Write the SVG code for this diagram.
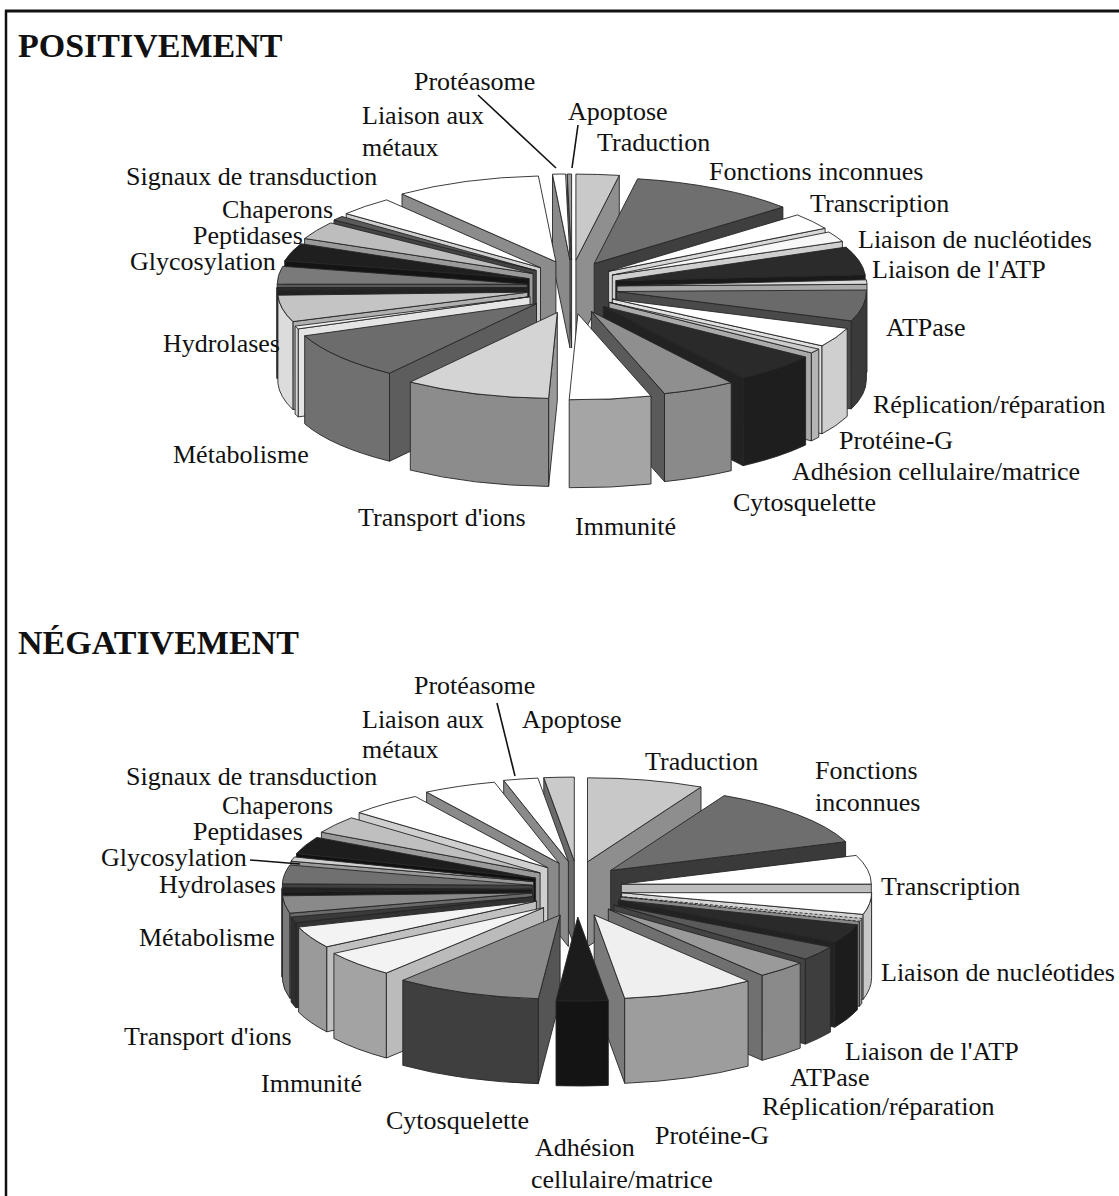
<svg xmlns="http://www.w3.org/2000/svg" width="1119" height="1196" viewBox="0 0 1119 1196">
<style>
.s path{stroke:#262626;stroke-width:0.9;stroke-linejoin:round}
.lbl{font-family:"Liberation Serif","Times New Roman",serif;font-size:26px;fill:#111}
.ttl{font-family:"Liberation Serif","Times New Roman",serif;font-size:34px;font-weight:bold;fill:#111}
.lead{stroke:#111;stroke-width:1.6;fill:none}
</style>
<rect width="1119" height="1196" fill="#fff"/>
<g id="frame" stroke="#111" fill="none">
<line x1="5" y1="11" x2="1119" y2="11" stroke-width="3"/>
<line x1="6" y1="10" x2="6" y2="1196" stroke-width="2.5"/>
</g>
<text class="ttl" x="18" y="57">POSITIVEMENT</text>
<text class="ttl" x="18" y="654">NÉGATIVEMENT</text>

<g id="pie-positivement" class="s">
<g id="p-apoptose"><path d="M571.6,260 L567.2,174 L567.2,262 L571.6,348 Z" fill="#6a6a6a"/><path d="M571.6,260 L567.2,174 A250 86 0 0 1 571.6,174 Z" fill="#9a9a9a"/></g>
<g id="p-proteasome"><path d="M570,260 L552.5,174.2 L552.5,262.2 L570,348 Z" fill="#8a8a8a"/><path d="M570,260 L552.5,174.2 A250 86 0 0 1 565.6,174 Z" fill="#fff"/></g>
<g id="p-traduction"><path d="M575.9,260.1 L619.3,175.4 L619.3,263.4 L575.9,348.1 Z" fill="#8f8f8f"/><path d="M575.9,260.1 L575.9,174.1 A250 86 0 0 1 619.3,175.4 Z" fill="#c9c9c9"/></g>
<g id="p-metaux"><path d="M555.9,261.8 L402,194 L402,282 L555.9,349.8 Z" fill="#8c8c8c"/><path d="M555.9,261.8 L402,194 A250 86 0 0 1 538.4,176 Z" fill="#fff"/></g>
<g id="p-fonctions"><path d="M594.2,263.5 L782.9,207.1 L782.9,295.1 L594.2,351.5 Z" fill="#3f3f3f"/><path d="M594.2,263.5 L637.6,178.8 A250 86 0 0 1 782.9,207.1 Z" fill="#6f6f6f"/></g>
<g id="p-signaux"><path d="M540.5,267.7 L346.2,213.6 L346.2,301.6 L540.5,355.7 Z" fill="#cfcfcf"/><path d="M540.5,267.7 L346.2,213.6 A250 86 0 0 1 386.6,199.9 Z" fill="#fff"/></g>
<g id="p-thin-dark"><path d="M536.3,270.6 L334,220 L334,308 L536.3,358.6 Z" fill="#444"/><path d="M536.3,270.6 L334,220 A250 86 0 0 1 342,216.5 Z" fill="#5a5a5a"/></g>
<g id="p-transcription"><path d="M608.6,271.3 L825.1,228.3 L825.1,316.3 L608.6,359.3 Z" fill="#d8d8d8"/><path d="M608.6,271.3 L797.3,214.9 A250 86 0 0 1 825.1,228.3 Z" fill="#fff"/></g>
<g id="p-chaperons"><path d="M533,273.5 L304.6,238.5 L304.6,326.5 L533,361.5 Z" fill="#9a9a9a"/><path d="M533,273.5 L304.6,238.5 A250 86 0 0 1 330.7,222.9 Z" fill="#bdbdbd"/></g>
<g id="p-nucleotides"><path d="M612.3,275 L842.4,241.4 L842.4,329.4 L612.3,363 Z" fill="#cfcfcf"/><path d="M612.3,275 L828.8,232 A250 86 0 0 1 842.4,241.4 Z" fill="#f7f7f7"/></g>
<g id="p-peptidases"><path d="M529.2,278.7 L284.7,260.8 L284.7,348.8 L529.2,366.7 Z" fill="#141414"/><path d="M529.2,278.7 L284.7,260.8 A250 86 0 0 1 300.8,243.7 Z" fill="#1f1f1f"/></g>
<g id="p-atp"><path d="M615.8,280.7 L865.2,274.7 L865.2,362.7 L615.8,368.7 Z" fill="#1a1a1a"/><path d="M615.8,280.7 L846,247.1 A250 86 0 0 1 865.2,274.7 Z" fill="#2b2b2b"/></g>
<g id="p-glycosylation"><path d="M527.2,284.2 L277.2,284.2 L277.2,372.2 L527.2,372.2 Z" fill="#5a5a5a"/><path d="M527.2,284.2 L277.2,284.2 A250 86 0 0 1 282.7,266.3 Z" fill="#7a7a7a"/></g>
<g id="p-thin-light"><path d="M617,285.8 L867,284.3 L867,372.3 L617,373.8 Z" fill="#a8a8a8"/><path d="M617,285.8 L866.4,279.8 A250 86 0 0 1 867,284.3 Z" fill="#d9d9d9"/></g>
<g id="p-thin-black"><path d="M527,287.5 L277.1,290.5 L277.1,378.5 L527,375.5 Z" fill="#222"/><path d="M277.1,290.5 A250 86 0 0 1 277,287.5 L277,375.5 A250 86 0 0 0 277.1,378.5 Z" fill="#222"/><path d="M527,287.5 L277.1,290.5 A250 86 0 0 1 277,287.5 Z" fill="#2a2a2a"/></g>
<g id="p-atpase"><path d="M616.4,291.5 L851.3,320.9 L851.3,408.9 L616.4,379.5 Z" fill="#4a4a4a"/><path d="M866.4,291.5 A250 86 0 0 1 851.3,320.9 L851.3,408.9 A250 86 0 0 0 866.4,379.5 Z" fill="#3a3a3a"/><path d="M616.4,291.5 L866.4,290 A250 86 0 0 1 851.3,320.9 Z" fill="#6a6a6a"/></g>
<g id="p-hydrolases"><path d="M527.8,292.2 L292.9,321.6 L292.9,409.6 L527.8,380.2 Z" fill="#b0b0b0"/><path d="M292.9,321.6 A250 86 0 0 1 277.9,295.2 L277.9,383.2 A250 86 0 0 0 292.9,409.6 Z" fill="#dcdcdc"/><path d="M527.8,292.2 L292.9,321.6 A250 86 0 0 1 277.9,295.2 Z" fill="#c4c4c4"/></g>
<g id="p-thin-white"><path d="M530,296.7 L298.2,328.9 L298.2,416.9 L530,384.7 Z" fill="#e5e5e5"/><path d="M298.2,328.9 A250 86 0 0 1 295.1,326.1 L295.1,414.1 A250 86 0 0 0 298.2,416.9 Z" fill="#d5d5d5"/><path d="M530,296.7 L298.2,328.9 A250 86 0 0 1 295.1,326.1 Z" fill="#f0f0f0"/></g>
<g id="p-replication"><path d="M612.3,299 L822,345.8 L822,433.8 L612.3,387 Z" fill="#e0e0e0"/><path d="M847.2,328.4 A250 86 0 0 1 822,345.8 L822,433.8 A250 86 0 0 0 847.2,416.4 Z" fill="#cfcfcf"/><path d="M612.3,299 L847.2,328.4 A250 86 0 0 1 822,345.8 Z" fill="#fff"/></g>
<g id="p-proteine-g"><path d="M609.1,302.3 L811.4,352.9 L811.4,440.9 L609.1,390.3 Z" fill="#aaa"/><path d="M818.8,349.1 A250 86 0 0 1 811.4,352.9 L811.4,440.9 A250 86 0 0 0 818.8,437.1 Z" fill="#b5b5b5"/><path d="M609.1,302.3 L818.8,349.1 A250 86 0 0 1 811.4,352.9 Z" fill="#cdcdcd"/></g>
<g id="p-metabolisme"><path d="M536.5,303.6 L389.5,373.2 L389.5,461.2 L536.5,391.6 Z" fill="#5d5d5d"/><path d="M389.5,373.2 A250 86 0 0 1 304.7,335.8 L304.7,423.8 A250 86 0 0 0 389.5,461.2 Z" fill="#707070"/><path d="M536.5,303.6 L389.5,373.2 A250 86 0 0 1 304.7,335.8 Z" fill="#6c6c6c"/></g>
<g id="p-adhesion"><path d="M603.3,306.4 L743.1,377.7 L743.1,465.7 L603.3,394.4 Z" fill="#222"/><path d="M805.6,357 A250 86 0 0 1 743.1,377.7 L743.1,465.7 A250 86 0 0 0 805.6,445 Z" fill="#1e1e1e"/><path d="M603.3,306.4 L805.6,357 A250 86 0 0 1 743.1,377.7 Z" fill="#2a2a2a"/></g>
<g id="p-cytosquelette"><path d="M591.4,311.4 L664.5,393.6 L664.5,481.6 L591.4,399.4 Z" fill="#5a5a5a"/><path d="M731.2,382.7 A250 86 0 0 1 664.5,393.6 L664.5,481.6 A250 86 0 0 0 731.2,470.7 Z" fill="#8a8a8a"/><path d="M591.4,311.4 L731.2,382.7 A250 86 0 0 1 664.5,393.6 Z" fill="#8f8f8f"/></g>
<g id="p-transport"><path d="M557.3,312.5 L548.6,398.4 L548.6,486.4 L557.3,400.5 Z" fill="#999"/><path d="M548.6,398.4 A250 86 0 0 1 410.3,382.1 L410.3,470.1 A250 86 0 0 0 548.6,486.4 Z" fill="#8c8c8c"/><path d="M557.3,312.5 L548.6,398.4 A250 86 0 0 1 410.3,382.1 Z" fill="#d4d4d4"/></g>
<g id="p-immunite"><path d="M651,396 A250 86 0 0 1 569.2,399.7 L569.2,487.7 A250 86 0 0 0 651,484 Z" fill="#a5a5a5"/><path d="M577.9,313.8 L651,396 A250 86 0 0 1 569.2,399.7 Z" fill="#fff"/></g>
</g>

<g id="pie-negativement" class="s">
<g id="n-apoptose"><path d="M574.3,861.1 L543.8,777.7 L543.8,862.7 L574.3,946.1 Z" fill="#6a6a6a"/><path d="M574.3,861.1 L543.8,777.7 A250 84 0 0 1 574.3,777.1 Z" fill="#cacaca"/></g>
<g id="n-proteasome"><path d="M568.4,861.5 L503.7,780.4 L503.7,865.4 L568.4,946.5 Z" fill="#8a8a8a"/><path d="M568.4,861.5 L503.7,780.4 A250 84 0 0 1 537.9,778.1 Z" fill="#fff"/></g>
<g id="n-traduction"><path d="M587.5,861.8 L701,787 L701,872 L587.5,946.8 Z" fill="#8e8e8e"/><path d="M587.5,861.8 L587.5,777.8 A250 84 0 0 1 701,787 Z" fill="#c8c8c8"/></g>
<g id="n-metaux"><path d="M559.1,863.3 L426.6,792.1 L426.6,877.1 L559.1,948.3 Z" fill="#8a8a8a"/><path d="M559.1,863.3 L426.6,792.1 A250 84 0 0 1 494.4,782.2 Z" fill="#fff"/></g>
<g id="n-signaux"><path d="M547.8,867.7 L359.1,812.6 L359.1,897.6 L547.8,952.7 Z" fill="#cfcfcf"/><path d="M547.8,867.7 L359.1,812.6 A250 84 0 0 1 415.3,796.5 Z" fill="#fff"/></g>
<g id="n-fonctions"><path d="M610.7,870.4 L845.6,841.7 L845.6,926.7 L610.7,955.4 Z" fill="#3a3a3a"/><path d="M610.7,870.4 L724.2,795.6 A250 84 0 0 1 845.6,841.7 Z" fill="#6e6e6e"/></g>
<g id="n-chaperons"><path d="M540.1,872.9 L321.4,832.2 L321.4,917.2 L540.1,957.9 Z" fill="#9a9a9a"/><path d="M540.1,872.9 L321.4,832.2 A250 84 0 0 1 351.4,817.8 Z" fill="#bfbfbf"/></g>
<g id="n-peptidases"><path d="M535.6,878.1 L296.5,853.5 L296.5,938.5 L535.6,963.1 Z" fill="#111"/><path d="M535.6,878.1 L296.5,853.5 A250 84 0 0 1 316.9,837.4 Z" fill="#1d1d1d"/></g>
<g id="n-glycosylation"><path d="M533.6,881.5 L291,861.2 L291,946.2 L533.6,966.5 Z" fill="#999"/><path d="M533.6,881.5 L291,861.2 A250 84 0 0 1 294.5,856.9 Z" fill="#cfcfcf"/></g>
<g id="n-transcription"><path d="M621.3,884.1 L871.3,884.1 L871.3,969.1 L621.3,969.1 Z" fill="#bdbdbd"/><path d="M621.3,884.1 L856.2,855.4 A250 84 0 0 1 871.3,884.1 Z" fill="#fff"/></g>
<g id="n-hydrolases"><path d="M532.4,885.3 L282.4,883.8 L282.4,968.8 L532.4,970.3 Z" fill="#404040"/><path d="M532.4,885.3 L282.4,883.8 A250 84 0 0 1 289.8,865 Z" fill="#707070"/></g>
<g id="n-thin-black"><path d="M532,889.2 L282.1,892.1 L282.1,977.1 L532,974.2 Z" fill="#1a1a1a"/><path d="M282.1,892.1 A250 84 0 0 1 282,889.2 L282,974.2 A250 84 0 0 0 282.1,977.1 Z" fill="#1a1a1a"/><path d="M532,889.2 L282.1,892.1 A250 84 0 0 1 282,887.7 Z" fill="#222"/></g>
<g id="n-nucleotides"><path d="M621.6,892.7 L863.1,914.4 L863.1,999.4 L621.6,977.7 Z" fill="#d6d6d6"/><path d="M871.6,892.7 A250 84 0 0 1 863.1,914.4 L863.1,999.4 A250 84 0 0 0 871.6,977.7 Z" fill="#c8c8c8"/><path d="M621.6,892.7 L871.6,892.7 A250 84 0 0 1 863.1,914.4 Z" fill="#fff"/></g>
<g id="n-metabolisme"><path d="M532.4,892.9 L289.8,913.2 L289.8,998.2 L532.4,977.9 Z" fill="#6a6a6a"/><path d="M289.8,913.2 A250 84 0 0 1 282.5,895.8 L282.5,980.8 A250 84 0 0 0 289.8,998.2 Z" fill="#7a7a7a"/><path d="M532.4,892.9 L289.8,913.2 A250 84 0 0 1 282.5,895.8 Z" fill="#8a8a8a"/></g>
<g id="n-thin-dark"><path d="M533.7,896.7 L295.9,922.7 L295.9,1007.7 L533.7,981.7 Z" fill="#333"/><path d="M295.9,922.7 A250 84 0 0 1 291.1,917 L291.1,1002 A250 84 0 0 0 295.9,1007.7 Z" fill="#2e2e2e"/><path d="M533.7,896.7 L295.9,922.7 A250 84 0 0 1 291.1,917 Z" fill="#3a3a3a"/></g>
<g id="n-dotted"><path d="M620.3,896.7 L859.4,921.3 L859.4,1006.3 L620.3,981.7 Z" fill="#888"/><path d="M861.8,918.4 A250 84 0 0 1 859.4,921.3 L859.4,1006.3 A250 84 0 0 0 861.8,1003.4 Z" fill="#999"/><path d="M620.3,896.7 L861.8,918.4 A250 84 0 0 1 859.4,921.3 Z" fill="#bbb" stroke-dasharray="3 2"/></g>
<g id="n-atp"><path d="M618.3,900.2 L834.8,942.2 L834.8,1027.2 L618.3,985.2 Z" fill="#222"/><path d="M857.4,924.8 A250 84 0 0 1 834.8,942.2 L834.8,1027.2 A250 84 0 0 0 857.4,1009.8 Z" fill="#1c1c1c"/><path d="M618.3,900.2 L857.4,924.8 A250 84 0 0 1 834.8,942.2 Z" fill="#2a2a2a"/></g>
<g id="n-transport"><path d="M536.4,901.1 L326.7,946.8 L326.7,1031.8 L536.4,986.1 Z" fill="#c0c0c0"/><path d="M326.7,946.8 A250 84 0 0 1 298.6,927.1 L298.6,1012.1 A250 84 0 0 0 326.7,1031.8 Z" fill="#9a9a9a"/><path d="M536.4,901.1 L326.7,946.8 A250 84 0 0 1 298.6,927.1 Z" fill="#f3f3f3"/></g>
<g id="n-atpase"><path d="M613.9,905.1 L805.4,959.1 L805.4,1044.1 L613.9,990.1 Z" fill="#444"/><path d="M830.4,947.1 A250 84 0 0 1 805.4,959.1 L805.4,1044.1 A250 84 0 0 0 830.4,1032.1 Z" fill="#3e3e3e"/><path d="M613.9,905.1 L830.4,947.1 A250 84 0 0 1 805.4,959.1 Z" fill="#5a5a5a"/></g>
<g id="n-immunite"><path d="M543.6,907.7 L386.3,973 L386.3,1058 L543.6,992.7 Z" fill="#bbb"/><path d="M386.3,973 A250 84 0 0 1 333.9,953.4 L333.9,1038.4 A250 84 0 0 0 386.3,1058 Z" fill="#a3a3a3"/><path d="M543.6,907.7 L386.3,973 A250 84 0 0 1 333.9,953.4 Z" fill="#f3f3f3"/></g>
<g id="n-replication"><path d="M608.3,909.1 L762.2,975.3 L762.2,1060.3 L608.3,994.1 Z" fill="#707070"/><path d="M800.2,963.1 A250 84 0 0 1 762.2,975.3 L762.2,1060.3 A250 84 0 0 0 800.2,1048.1 Z" fill="#8a8a8a"/><path d="M608.3,909.1 L800.2,963.1 A250 84 0 0 1 762.2,975.3 Z" fill="#9a9a9a"/></g>
<g id="n-proteine-g"><path d="M594.2,914.9 L624.7,998.3 L624.7,1083.3 L594.2,999.9 Z" fill="#7a7a7a"/><path d="M748.1,981.1 A250 84 0 0 1 624.7,998.3 L624.7,1083.3 A250 84 0 0 0 748.1,1066.1 Z" fill="#9d9d9d"/><path d="M594.2,914.9 L748.1,981.1 A250 84 0 0 1 624.7,998.3 Z" fill="#efefef"/></g>
<g id="n-cytosquelette"><path d="M560.1,915 L538.3,998.7 L538.3,1083.7 L560.1,1000 Z" fill="#555"/><path d="M538.3,998.7 A250 84 0 0 1 402.8,980.3 L402.8,1065.3 A250 84 0 0 0 538.3,1083.7 Z" fill="#3f3f3f"/><path d="M560.1,915 L538.3,998.7 A250 84 0 0 1 402.8,980.3 Z" fill="#8a8a8a"/></g>
<g id="n-adhesion"><path d="M608.3,1000.4 A250 84 0 0 1 556,1000.7 L556,1085.7 A250 84 0 0 0 608.3,1085.4 Z" fill="#141414"/><path d="M577.8,917 L608.3,1000.4 A250 84 0 0 1 556,1000.7 Z" fill="#1c1c1c"/></g>
</g>

<g id="connectors" class="lead">
<line x1="478" y1="95" x2="556" y2="168"/>
<line x1="578" y1="125" x2="572" y2="168"/>
<line x1="497" y1="703" x2="515" y2="776"/>
<line x1="250" y1="860" x2="300" y2="864"/>
</g>

<g id="labels-positivement" class="lbl">
<text x="414" y="90">Protéasome</text>
<text x="362" y="124">Liaison aux</text>
<text x="362" y="156">métaux</text>
<text x="568" y="120">Apoptose</text>
<text x="597" y="151">Traduction</text>
<text x="709" y="180">Fonctions inconnues</text>
<text x="810" y="212">Transcription</text>
<text x="858" y="248">Liaison de nucléotides</text>
<text x="872" y="278">Liaison de l'ATP</text>
<text x="886" y="336">ATPase</text>
<text x="873" y="413">Réplication/réparation</text>
<text x="839" y="449">Protéine-G</text>
<text x="792" y="480">Adhésion cellulaire/matrice</text>
<text x="733" y="511">Cytosquelette</text>
<text x="575" y="535">Immunité</text>
<text x="358" y="526">Transport d'ions</text>
<text x="173" y="463">Métabolisme</text>
<text x="163" y="352">Hydrolases</text>
<text x="130" y="270">Glycosylation</text>
<text x="193" y="244">Peptidases</text>
<text x="222" y="218">Chaperons</text>
<text x="126" y="185">Signaux de transduction</text>
</g>

<g id="labels-negativement" class="lbl">
<text x="414" y="694">Protéasome</text>
<text x="362" y="728">Liaison aux</text>
<text x="362" y="758">métaux</text>
<text x="522" y="728">Apoptose</text>
<text x="645" y="770">Traduction</text>
<text x="815" y="779">Fonctions</text>
<text x="815" y="811">inconnues</text>
<text x="881" y="895">Transcription</text>
<text x="881" y="981">Liaison de nucléotides</text>
<text x="845" y="1060">Liaison de l'ATP</text>
<text x="790" y="1086">ATPase</text>
<text x="762" y="1115">Réplication/réparation</text>
<text x="655" y="1144">Protéine-G</text>
<text x="535" y="1156">Adhésion</text>
<text x="531" y="1188">cellulaire/matrice</text>
<text x="386" y="1129">Cytosquelette</text>
<text x="261" y="1092">Immunité</text>
<text x="124" y="1045">Transport d'ions</text>
<text x="139" y="946">Métabolisme</text>
<text x="159" y="893">Hydrolases</text>
<text x="101" y="866">Glycosylation</text>
<text x="193" y="840">Peptidases</text>
<text x="222" y="814">Chaperons</text>
<text x="126" y="785">Signaux de transduction</text>
</g>
</svg>
